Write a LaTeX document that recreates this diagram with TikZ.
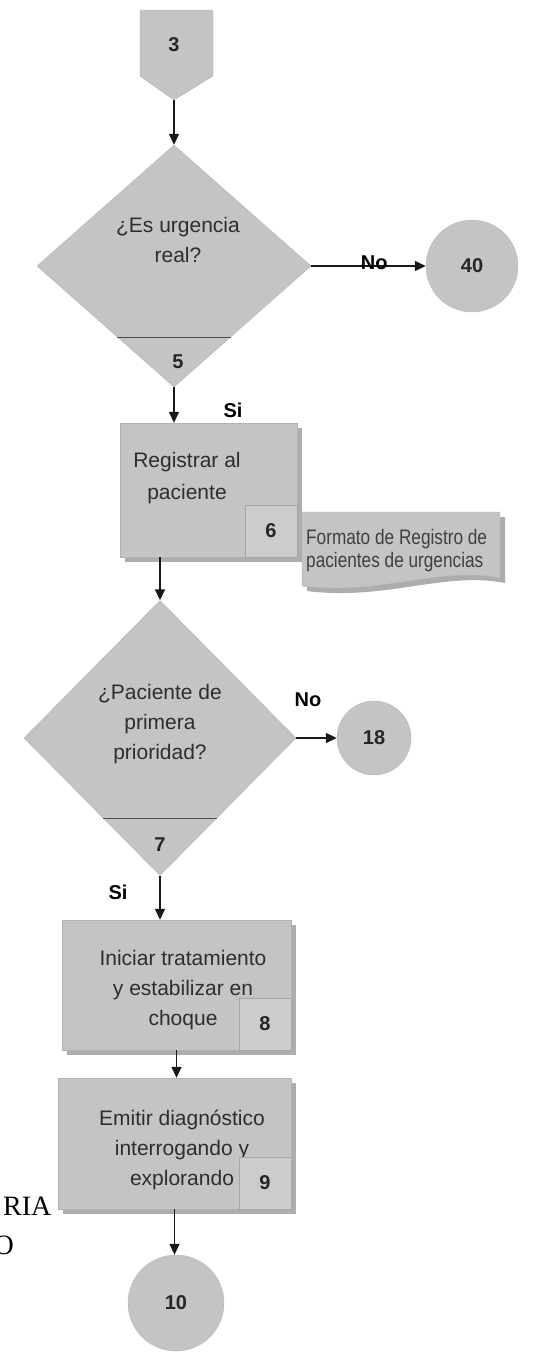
\documentclass[tikz,border=0pt]{standalone}
\usepackage{fontspec}
\setmainfont{Liberation Sans}
\newfontfamily\serifface{Liberation Serif}
\newfontfamily\narrowface[FakeStretch=0.82]{Liberation Sans}
\usetikzlibrary{shapes.geometric,arrows.meta,calc,shadows}

\begin{document}
\begin{tikzpicture}[x=1pt,y=-1pt,
  shapefill/.style={fill=gray!46},
  softshadow/.style={drop shadow={shadow xshift=5pt, shadow yshift=-5pt, fill=gray!64, opacity=1}},
  box/.style={rectangle, shapefill, draw=gray!60, line width=0.4pt, inner sep=0pt, softshadow},
  numbox/.style={rectangle, fill=gray!40, draw=gray!70, line width=0.6pt, inner sep=0pt,
    minimum width=52pt, minimum height=52pt, font=\fontsize{20}{24}\selectfont\bfseries, text=black!85},
  decision/.style={diamond, shapefill, draw=gray!60, line width=0.4pt, inner sep=0pt},
  connector/.style={circle, shapefill, draw=gray!55, line width=0.4pt, inner sep=0pt,
    font=\fontsize{20}{24}\selectfont\bfseries, text=black!85},
  label/.style={font=\fontsize{21}{30}\selectfont, align=center, text=black!82},
  tag/.style={font=\fontsize{20}{24}\selectfont\bfseries, text=black},
  divider/.style={draw=black!70, line width=0.8pt},
  flow/.style={draw=black!90, line width=1.4pt, -{Triangle[length=11pt,width=10pt]}},
]
\useasboundingbox (0,0) rectangle (538,1352);

% off-page connector 3
\path[shapefill, draw=gray!60, line width=0.4pt]
  (140,10) -- (213,10) -- (213,76) -- (174,100) -- (140,76) -- cycle;
\coordinate (p3tip) at (174,100);
\node[tag, text=black!85] (p3) at (174,45) {3};

% decision: urgencia real
\node[decision, minimum width=274pt, minimum height=242pt] (d1) at (174,266) {};
\draw[divider] ($(d1.south)!0.413!(d1.west)$) -- ($(d1.south)!0.413!(d1.east)$);
\node[label] (q1) at (178,240) {¿Es urgencia\\real?};
\node[tag, text=black!85] (n5) at (178,362) {5};
\draw[flow] (p3tip) -- (p3tip |- d1.north);

\node[connector, minimum size=92pt] (c40) at (472,266) {40};
\draw[flow] (d1.east) -- node[tag, pos=0.55, anchor=base, yshift=-3pt, inner sep=0pt] (no1) {No} (c40.west);

% register the patient
\node[box, minimum width=177pt, minimum height=134pt] (reg) at (208.5,490) {};
\node[label, font=\fontsize{21}{32}\selectfont] (regt) at (187,478) {Registrar al\\paciente};
\node[numbox, anchor=south east] (n6) at (reg.south east) {6};
\draw[flow] (d1.south) -- (d1.south |- reg.north);
\node[tag] (si1) at (233,410) {Si};

% attached form
\path[shapefill, draw=gray!60, line width=0.4pt, softshadow]
  (302,512) -- (500,512) -- (500,578) .. controls (440,566) and (380,596) .. (302,586) -- cycle;
\node[font=\narrowface\fontsize{21}{23}\selectfont, align=left, anchor=west, inner sep=0pt, text=black!75]
  (doc) at (306,551) {Formato de Registro de\\pacientes de urgencias};

% decision: primera prioridad
\node[decision, minimum width=272pt, minimum height=275pt] (d2) at (160,738) {};
\draw[divider] ($(d2.south)!0.415!(d2.west)$) -- ($(d2.south)!0.415!(d2.east)$);
\node[label] (q2) at (160,724) {¿Paciente de\\primera\\prioridad?};
\node[tag, text=black!85] (n7) at (160,845) {7};
\draw[flow] (d2.north |- reg.south) -- (d2.north);

\node[connector, minimum size=74pt] (c18) at (374,738) {18};
\draw[flow] (d2.east) -- (c18.west);
\node[tag] (no2) at (308,700) {No};

% start treatment
\node[box, minimum width=229pt, minimum height=130pt] (s8) at (176.5,985) {};
\node[label] (s8t) at (183,990) {Iniciar tratamiento\\y estabilizar en\\choque};
\node[numbox, anchor=south east] (n8) at (s8.south east) {8};
\draw[flow] (d2.south) -- (d2.south |- s8.north);
\node[tag] (si2) at (118,892) {Si};

% diagnosis
\node[box, minimum width=233pt, minimum height=131pt] (s9) at (174.5,1143.5) {};
\node[label] (s9t) at (182,1150) {Emitir diagnóstico\\interrogando y\\explorando};
\node[numbox, anchor=south east] (n9) at (s9.south east) {9};
\draw[flow] (s8.south) -- (s8.south |- s9.north);

\node[connector, minimum size=96pt] (c10) at (176,1303) {10};
\draw[flow] (s9.south) -- (s9.south |- c10.north);

% running text at the page edge
\node[font=\serifface\fontsize{28}{28}\selectfont, anchor=base west, inner sep=0pt] (ria) at (3,1215) {RIA};
\node[font=\serifface\fontsize{28}{28}\selectfont, anchor=base east, inner sep=0pt] (oo) at (14,1254) {O};
\end{tikzpicture}
\end{document}
